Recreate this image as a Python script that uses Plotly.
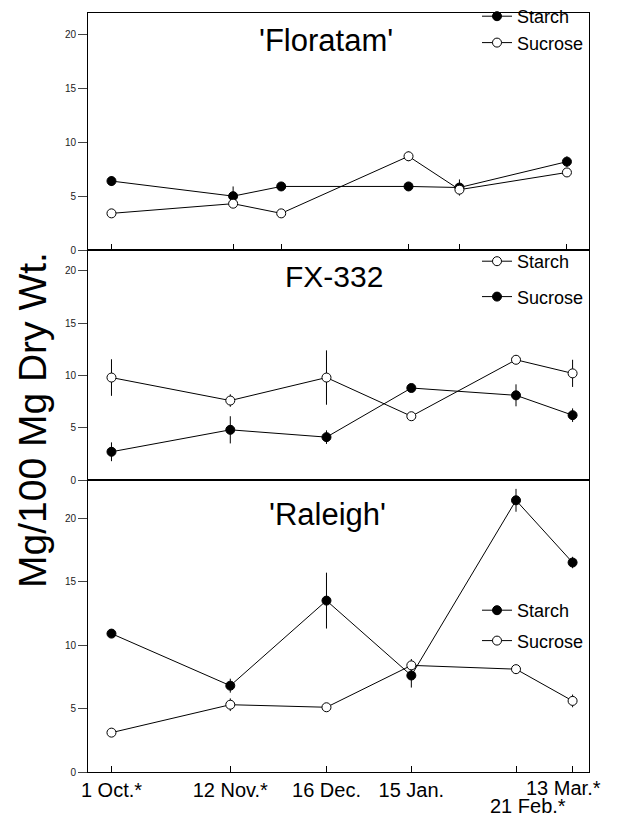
import plotly.graph_objects as go

# ---- data ----
date_days = [0, 42, 76, 106, 143, 163]          # days after 1 Oct
date_labels = ["1 Oct.*", "12 Nov.*", "16 Dec.", "15 Jan.", "21 Feb.*", "13 Mar.*"]
flor_days = [0, 43, 60, 105, 123, 161]          # positions as drawn in the top panel

flor_starch = [6.4, 5.0, 5.9, 5.9, 5.8, 8.2]
flor_starch_err = [0.45, 0.9, 0.4, 0.0, 0.75, 0.5]
flor_sucrose = [3.4, 4.3, 3.4, 8.7, 5.6, 7.2]
flor_sucrose_err = [0.0, 0.3, 0.0, 0.45, 0.0, 0.4]

fx_starch = [9.8, 7.6, 9.8, 6.1, 11.5, 10.2]
fx_starch_err = [1.75, 0.6, 2.6, 0.0, 0.3, 1.3]
fx_sucrose = [2.7, 4.8, 4.1, 8.8, 8.1, 6.2]
fx_sucrose_err = [0.9, 1.3, 0.65, 0.0, 1.05, 0.65]

ral_starch = [10.9, 6.8, 13.5, 7.6, 21.4, 16.5]
ral_starch_err = [0.0, 0.55, 2.2, 0.95, 0.9, 0.45]
ral_sucrose = [3.1, 5.3, 5.1, 8.4, 8.1, 5.6]
ral_sucrose_err = [0.3, 0.5, 0.3, 0.5, 0.0, 0.5]

FONT = "Liberation Sans, Arial, Helvetica, sans-serif"

W, H = 639, 820
L, R, T, B = 88, 50, 13, 48
ph = H - T - B
def py(p):  # pixel y -> paper
    return (H - B - p) / ph
def px(p):
    return (p - L) / (W - L - R)

fig = go.Figure()

def add(x, y, err, name, filled, xa, ya, legend, grp):
    fig.add_trace(go.Scatter(
        x=x, y=y, name=name, mode="lines+markers",
        xaxis=xa, yaxis=ya, legend=legend, legendgroup=grp,
        line=dict(color="black", width=1),
        marker=dict(symbol="circle", size=9,
                    color="black" if filled else "white",
                    line=dict(color="black", width=1)),
        error_y=dict(type="data", array=err, visible=True,
                     color="black", thickness=1, width=0),
    ))

# top panel: Floratam
add(flor_days, flor_starch, flor_starch_err, "Starch", True, "x3", "y3", "legend", "a1")
add(flor_days, flor_sucrose, flor_sucrose_err, "Sucrose", False, "x3", "y3", "legend", "b1")
# middle: FX-332
add(date_days, fx_starch, fx_starch_err, "Starch", False, "x2", "y2", "legend2", "a2")
add(date_days, fx_sucrose, fx_sucrose_err, "Sucrose", True, "x2", "y2", "legend2", "b2")
# bottom: Raleigh
add(date_days, ral_starch, ral_starch_err, "Starch", True, "x", "y", "legend3", "a3")
add(date_days, ral_sucrose, ral_sucrose_err, "Sucrose", False, "x", "y", "legend3", "b3")

xr = [-8.3, 168.8]
d3 = [0, py(480)]
d2 = [py(480), py(250)]
d1 = [py(250), 1]

yax = dict(showline=True, linecolor="black", linewidth=1, mirror=True,
           ticks="outside", ticklen=9, tickcolor="#444", tickwidth=1,
           dtick=5, tick0=0, showgrid=False, zeroline=False,
           tickfont=dict(family=FONT, size=10, color="#222"))
xax = dict(range=xr, showline=True, linecolor="black", linewidth=1, mirror=True,
           showgrid=False, zeroline=False, ticks="inside", ticklen=6,
           tickcolor="black", tickmode="array")

legfont = dict(family=FONT, size=18, color="black")
leg = dict(xanchor="right", yanchor="top", bgcolor="rgba(0,0,0,0)",
           font=legfont, itemwidth=30)

# first four date labels as tick labels; last two placed as text under their ticks
tick_text = date_labels[:4] + ["", ""]

fig.update_layout(
    width=W, height=H, margin=dict(l=L, r=R, t=T, b=B, autoexpand=False),
    paper_bgcolor="white", plot_bgcolor="white",
    showlegend=True,
    xaxis=dict(xax, anchor="y", domain=[0, 1], tickvals=date_days, ticktext=tick_text,
               tickangle=0, tickfont=dict(family=FONT, size=20, color="black")),
    xaxis2=dict(xax, anchor="y2", domain=[0, 1], tickvals=[], showticklabels=False),
    xaxis3=dict(xax, anchor="y3", domain=[0, 1], tickvals=flor_days, showticklabels=False),
    yaxis=dict(yax, domain=d3, range=[0, 23], anchor="x"),
    yaxis2=dict(yax, domain=d2, range=[0, 22], anchor="x2"),
    yaxis3=dict(yax, domain=d1, range=[0, 22], anchor="x3"),
    legend=dict(leg, x=1.0, y=py(-2), tracegroupgap=0),
    legend2=dict(leg, x=1.0, y=py(243), tracegroupgap=9),
    legend3=dict(leg, x=1.0, y=py(592), tracegroupgap=4),
)

# the two late-season labels (13 Mar. on the first line, 21 Feb. on a second line)
fig.add_annotation(x=date_days[5], y=py(788), xref="x", yref="paper", text=date_labels[5],
                   showarrow=False, xanchor="center", yanchor="middle", xshift=-9,
                   font=dict(family=FONT, size=20, color="black"))
fig.add_annotation(x=date_days[4], y=py(806), xref="x", yref="paper", text=date_labels[4],
                   showarrow=False, xanchor="center", yanchor="middle", xshift=12,
                   font=dict(family=FONT, size=20, color="black"))

ann = [
    dict(text="'Floratam'", x=px(326), y=py(40),
         font=dict(family=FONT, size=31, color="black")),
    dict(text="FX-332", x=px(334), y=py(276), font=dict(family=FONT, size=30, color="black")),
    dict(text="'Raleigh'", x=px(327), y=py(514), font=dict(family=FONT, size=31, color="black")),
    dict(text="Mg/100 Mg Dry Wt.", x=px(33), y=py(420), textangle=-90,
         font=dict(family=FONT, size=39, color="black")),
]
for a in ann:
    fig.add_annotation(xref="paper", yref="paper", showarrow=False,
                       xanchor="center", yanchor="middle", **a)

fig.write_html("out.html")
